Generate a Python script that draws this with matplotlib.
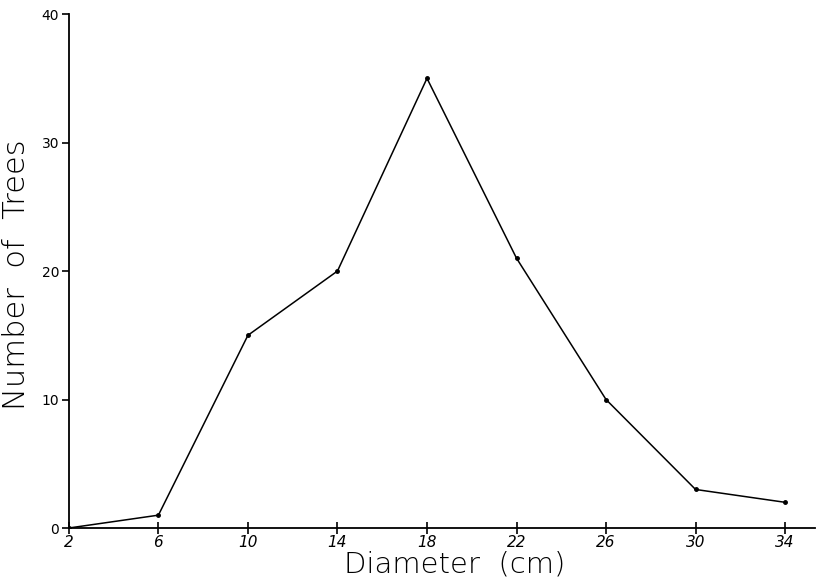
import matplotlib.pyplot as plt
import matplotlib

matplotlib.rc('font', family='DejaVu Sans')

diameter = [2, 6, 10, 14, 18, 22, 26, 30, 34]
trees = [0, 1, 15, 20, 35, 21, 10, 3, 2]
yticks = [0, 10, 20, 30, 40]

fig = plt.figure(figsize=(8.2, 5.87), dpi=100)
ax = fig.add_axes([0.084, 0.1005, 0.91, 0.8755])

ax.plot(diameter, trees, 'k-', marker='o', markersize=2.5, linewidth=1.1)

ax.set_xlim(2, 35.34)
ax.set_ylim(0, 40)
ax.set_xticks(diameter)
ax.set_xticklabels([str(d) for d in diameter], style='italic', fontsize=11)
ax.set_yticks(yticks)
ax.set_yticklabels([str(t) for t in yticks], fontsize=10)

for s in ['top', 'right']:
    ax.spines[s].set_visible(False)
for s in ['left', 'bottom']:
    ax.spines[s].set_linewidth(1.3)
ax.tick_params(axis='x', direction='inout', length=8, width=1.2, pad=1)
ax.tick_params(axis='y', direction='out', length=5, width=1.2, pad=2)

# axis titles placed in figure coords, wide spacing like the original
fig.text(455/820, 1 - 565/587, 'Diameter  (cm)', fontsize=21, fontweight='light',
         ha='center', va='center')
fig.text(17/820, 1 - 275/587, 'Number  of  Trees', fontsize=22, fontweight='light',
         rotation=90, ha='center', va='center')

fig.savefig('out.png', dpi=100)
